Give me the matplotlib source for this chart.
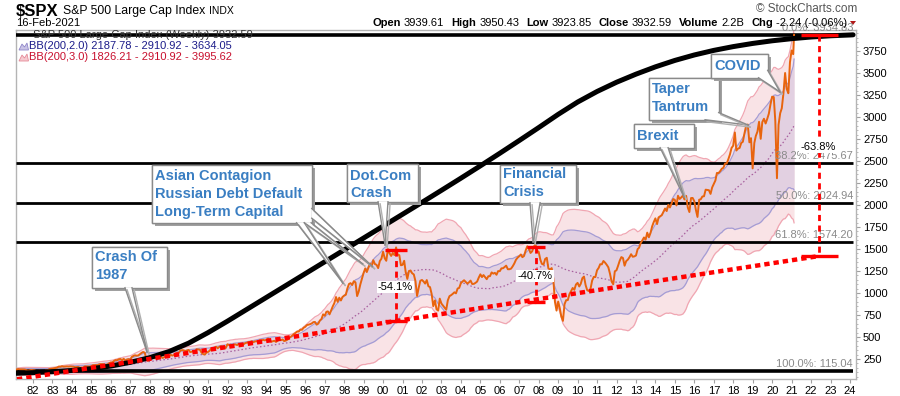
import numpy as np
import pandas as pd
import matplotlib
matplotlib.use("Agg")
import matplotlib.pyplot as plt
from matplotlib.patches import Polygon
from matplotlib import patheffects as pe

# ---------------- data (S&P 500, monthly) ----------------
SPX_1978_1989 = [
    89, 87, 89, 97, 97, 96, 101, 103, 103, 93, 95, 96,
    100, 96, 102, 102, 99, 103, 104, 109, 109, 102, 106, 108,
    114, 114, 102, 106, 111, 114, 122, 122, 125, 127, 141, 136,
    130, 131, 136, 133, 132, 131, 131, 123, 116, 122, 126, 123,
    120, 113, 112, 116, 112, 110, 107, 120, 120, 134, 139, 141,
    145, 148, 153, 164, 162, 168, 163, 164, 166, 164, 166, 165,
    163, 157, 159, 160, 151, 153, 151, 167, 166, 166, 164, 167,
    180, 181, 181, 180, 190, 192, 191, 188, 182, 190, 202, 211,
    212, 227, 238, 236, 247, 251, 236, 253, 231, 244, 249, 242,
    274, 284, 292, 288, 290, 304, 319, 330, 322, 248, 230, 247,
    257, 268, 259, 261, 262, 274, 272, 262, 272, 279, 274, 278,
    297, 289, 295, 310, 321, 318, 346, 351, 349, 340, 346, 353,
]
SPX_1990_1999 = [
    329, 332, 340, 331, 361, 358, 356, 323, 306, 300, 322, 330,
    344, 367, 375, 375, 390, 371, 388, 395, 388, 392, 375, 417,
    409, 413, 404, 415, 415, 408, 424, 414, 418, 419, 431, 436,
    439, 443, 452, 440, 450, 451, 448, 464, 459, 468, 462, 466,
    482, 467, 446, 451, 457, 444, 458, 475, 463, 472, 454, 459,
    470, 487, 501, 515, 533, 545, 562, 562, 584, 582, 605, 616,
    636, 640, 646, 654, 669, 671, 640, 652, 687, 705, 757, 741,
    786, 791, 757, 801, 848, 885, 954, 899, 947, 915, 955, 970,
    980, 1049, 1102, 1112, 1091, 1134, 1121, 965, 1017, 1099, 1164, 1229,
    1280, 1238, 1286, 1335, 1302, 1373, 1329, 1320, 1283, 1363, 1389, 1469,
]
SPX_2000_2009 = [
    1394, 1366, 1499, 1452, 1421, 1455, 1431, 1518, 1437, 1429, 1315, 1320,
    1366, 1240, 1160, 1249, 1256, 1224, 1211, 1134, 966, 1060, 1139, 1148,
    1130, 1107, 1147, 1077, 1067, 990, 850, 916, 815, 800, 936, 880,
    856, 835, 810, 917, 964, 975, 990, 1008, 996, 1051, 1058, 1112,
    1131, 1145, 1126, 1107, 1121, 1141, 1102, 1104, 1115, 1130, 1174, 1212,
    1181, 1204, 1181, 1157, 1191, 1191, 1234, 1220, 1229, 1207, 1249, 1248,
    1280, 1281, 1295, 1311, 1270, 1270, 1277, 1304, 1336, 1378, 1401, 1418,
    1438, 1407, 1421, 1482, 1531, 1503, 1455, 1474, 1527, 1549, 1481, 1468,
    1379, 1331, 1323, 1386, 1400, 1280, 1267, 1283, 1166, 900, 800, 903,
    826, 735, 683, 873, 919, 919, 987, 1021, 1057, 1036, 1096, 1115,
]
SPX_2010_2021 = [
    1074, 1104, 1169, 1187, 1089, 1031, 1022, 1049, 1141, 1183, 1181, 1258,
    1286, 1327, 1326, 1364, 1345, 1321, 1292, 1219, 1131, 1099, 1247, 1258,
    1312, 1366, 1408, 1398, 1310, 1362, 1379, 1407, 1441, 1412, 1416, 1426,
    1498, 1515, 1569, 1598, 1631, 1606, 1686, 1633, 1682, 1757, 1806, 1848,
    1783, 1859, 1872, 1884, 1924, 1960, 1931, 2003, 1972, 2018, 2068, 2059,
    1995, 2105, 2068, 2086, 2107, 2063, 2104, 1972, 1920, 2079, 2080, 2044,
    1940, 1864, 2060, 2065, 2097, 2099, 2174, 2171, 2168, 2126, 2199, 2239,
    2279, 2364, 2363, 2384, 2412, 2423, 2470, 2472, 2519, 2575, 2648, 2674,
    2824, 2619, 2641, 2648, 2705, 2718, 2816, 2902, 2914, 2712, 2760, 2416,
    2704, 2784, 2834, 2946, 2752, 2942, 2980, 2926, 2977, 3038, 3141, 3231,
    3226, 2954, 2304, 2912, 3044, 3100, 3271, 3500, 3319, 3270, 3622, 3756,
    3714, 3934,
]

# Fibonacci retracement levels
FIB_LABELS = ["0.0%", "38.2%", "50.0%", "61.8%", "100.0%"]
FIB_VALUES = [3934.83, 2475.67, 2024.94, 1574.20, 115.04]

# hand-drawn black arc (read at each year)
CURVE_YEARS = [1981.13, 1982, 1983, 1984, 1985, 1986, 1987, 1988, 1989, 1990,
               1991, 1992, 1993, 1994, 1995, 1996, 1997, 1998, 1999, 2000,
               2001, 2002, 2003, 2004, 2005, 2006, 2007, 2008, 2009, 2010,
               2011, 2012, 2013, 2014, 2015, 2016, 2017, 2018, 2019, 2020,
               2021, 2022, 2023, 2024, 2024.16]
CURVE_VALUES = [88, 95, 106, 120, 140, 170, 212, 265, 335, 430,
                550, 680, 815, 950, 1085, 1220, 1355, 1490, 1625, 1760,
                1895, 2030, 2167, 2305, 2445, 2588, 2733, 2880, 3030, 3170,
                3290, 3395, 3487, 3570, 3643, 3705, 3757, 3800, 3836, 3866,
                3890, 3909, 3923, 3932, 3934]

# red dotted trend line
TREND_YEARS = [1981.18, 2022.41]
TREND_VALUES = [20, 1420]

# drawdown measurements
DD_YEARS = [2000.67, 2007.86, 2022.41]
DD_TOPS = [1489, 1523, 3934.83]
DD_BOTTOMS = [682, 903, 1420]
DD_LABELS = ["-54.1%", "-40.7%", "-63.8%"]

YEAR_TICKS = list(range(1982, 2025))
PRICE_TICKS = list(range(250, 3751, 250))

# ---------------- styling ----------------
plt.rcParams['font.family'] = ['Liberation Sans', 'DejaVu Sans']
W, H = 900, 396
fig = plt.figure(figsize=(W / 100, H / 100), dpi=100)
fig.patch.set_facecolor('white')

def fx(px):
    return px / W

def fy(py):
    return 1 - py / H

ax = fig.add_axes([fx(16), fy(379), (856 - 16) / W, (379 - 30) / H])
ax.set_xlim(1981.126, 2024.31)
ax.set_ylim(22.7, 3988.6)

close = np.array(SPX_1978_1989 + SPX_1990_1999 + SPX_2000_2009 + SPX_2010_2021, dtype=float)
months = pd.date_range('1978-01-31', periods=len(close), freq='ME')
dates = np.asarray(months.year + (months.dayofyear - 1) / 365.25, dtype=float)
dates[-1] = 2021 + 46 / 365.25

s = pd.Series(close)
win = 46  # ~200 weeks
mid = s.rolling(win, min_periods=34).mean().to_numpy()
sd = s.rolling(win, min_periods=34).std(ddof=0).to_numpy()
up2, lo2 = mid + 2 * sd, mid - 2 * sd
up3, lo3 = mid + 3 * sd, mid - 3 * sd
ok = ~np.isnan(mid)

ax.fill_between(dates[ok], lo3[ok], up3[ok], color='#f9e3e6', lw=0, zorder=1)
ax.plot(dates[ok], up3[ok], color='#f0a6b2', lw=0.9, zorder=1.2)
ax.plot(dates[ok], lo3[ok], color='#f0a6b2', lw=0.9, zorder=1.2)
ax.fill_between(dates[ok], lo2[ok], up2[ok], color='#e2d0e1', lw=0, zorder=1.5)
ax.plot(dates[ok], up2[ok], color='#a59cd4', lw=0.9, zorder=1.7)
ax.plot(dates[ok], lo2[ok], color='#a59cd4', lw=0.9, zorder=1.7)
ax.plot(dates[ok], mid[ok], color='#a8609e', lw=0.9, ls=(0, (1.2, 1.8)), zorder=1.8)

# fib lines
for lab, v in zip(FIB_LABELS, FIB_VALUES):
    lw = 2.6 if lab in ("0.0%", "100.0%") else 2.0
    ax.plot([1981.13, 2024.16], [v, v], color='black', lw=lw, zorder=3,
            solid_capstyle='butt')

# price
ax.plot(dates, close, color='#e8640e', lw=1.4, zorder=4, solid_joinstyle='round')

# arc
ax.plot(CURVE_YEARS, CURVE_VALUES, color='black', lw=3.6, zorder=6,
        solid_capstyle='round', solid_joinstyle='round')

# trend line
ax.plot(TREND_YEARS, TREND_VALUES, color='#ff0000', lw=3.2, ls=(0, (1.2, 0.9)),
        zorder=6.5, dash_capstyle='butt')

# drawdown markers
bar_half = [0.56, 0.46, 0.95]
for yr, top, bot, hw in zip(DD_YEARS, DD_TOPS, DD_BOTTOMS, bar_half):
    ax.plot([yr, yr], [top, bot], color='#ff0000', lw=2.0, ls=(0, (2.2, 1.6)), zorder=7)
    for v in (top, bot):
        ax.plot([yr - hw, yr + hw], [v, v], color='#ff0000', lw=2.4, zorder=7,
                solid_capstyle='butt')

lbl_pos = [(2000.62, 1068), (2007.81, 1193), (2022.36, 2659)]
for (lx, lv), lab in zip(lbl_pos, DD_LABELS):
    ax.text(lx, lv, lab, fontsize=8, ha='center', va='center', zorder=8,
            bbox=dict(facecolor='white', edgecolor='none', pad=0.8))

# fib labels
fib_pos = [None, 2557, 2102, 1659, 193]
for lab, v, pos in zip(FIB_LABELS, FIB_VALUES, fib_pos):
    txt = f"{lab}: {v:.2f}"
    if pos is None:
        fig.text(fx(853), fy(28), txt, fontsize=8, color='#8a8a8a', ha='right', va='center')
    else:
        ax.text(2024.16, pos, txt, fontsize=8, color='#8a8a8a', ha='right', va='center',
                zorder=5)

# ---------------- callouts ----------------
BLUE = '#3a7ec2'
EDGE = '#8a8a8a'
shadow = [pe.withSimplePatchShadow(offset=(2, -2), shadow_rgbFace='#a0a0a0', alpha=1.0),
          pe.Normal()]

def callout(box, lines, text_x, text_vals, wedges, zb=10):
    x0, v0, x1, v1 = box
    ax.add_patch(Polygon([(x0, v0), (x1, v0), (x1, v1), (x0, v1)], closed=True,
                         facecolor='white', edgecolor=EDGE, lw=1.0, zorder=zb,
                         path_effects=shadow))
    for a, b, tip in wedges:
        ax.add_patch(Polygon([a, b, tip], closed=True, facecolor='white',
                             edgecolor='none', zorder=zb + 0.3))
        for p in (a, b):
            ax.plot([p[0], tip[0]], [p[1], tip[1]], color=EDGE, lw=1.0, zorder=zb + 0.4,
                    path_effects=[pe.SimpleLineShadow(offset=(1.5, -1.5),
                                                      shadow_color='#b0b0b0', alpha=1),
                                  pe.Normal()])
    for t, v in zip(lines, text_vals):
        ax.text(text_x, v, t, color=BLUE, fontsize=10.5, fontweight='bold',
                ha='left', va='center', zorder=zb + 0.5)

callout((1985.03, 1057, 1988.89, 1523), ["Crash Of", "1987"], 1985.19, [1409, 1205],
        [((1986.73, 1060), (1987.09, 1060), (1987.86, 330))])
callout((1988.12, 1795, 1996.34, 2455),
        ["Asian Contagion", "Russian Debt Default", "Long-Term Capital"], 1988.27,
        [2330, 2125, 1920],
        [((1995.55, 1798), (1995.95, 1798), (1997.94, 1110)),
         ((1995.95, 1798), (1996.30, 1798), (1998.95, 1330)),
         ((1996.33, 1850), (1996.33, 1960), (1999.45, 1300))])
callout((1998.14, 2034, 2001.79, 2466), ["Dot.Com", "Crash"], 1998.30, [2330, 2136],
        [((1999.74, 2037), (2000.25, 2037), (2000.10, 1545))])
callout((2006.01, 2023, 2009.92, 2455), ["Financial", "Crisis"], 2006.16, [2352, 2148],
        [((2007.55, 2026), (2008.07, 2026), (2007.71, 1580))])
callout((2012.90, 2648, 2015.98, 2920), ["Brexit"], 2013.05, [2784],
        [((2014.24, 2651), (2014.65, 2651), (2015.47, 2091))])
callout((2013.67, 2966, 2017.27, 3443), ["Taper", "Tantrum"], 2013.83, [3318, 3114],
        [((2016.55, 2969), (2017.25, 3050), (2018.76, 2909))])
callout((2016.86, 3443, 2019.79, 3716), ["COVID"], 2017.01, [3580],
        [((2019.30, 3446), (2019.77, 3530), (2020.41, 3284))], zb=11)

# ---------------- axes ----------------
ax.set_xticks(YEAR_TICKS)
ax.set_xticklabels([f"{y % 100:02d}" for y in YEAR_TICKS])
ax.yaxis.tick_right()
ax.set_yticks(PRICE_TICKS)
ax.set_yticklabels([str(v) for v in PRICE_TICKS])
ax.set_yticks(list(range(50, 3990, 50)), minor=True)
ax.tick_params(axis='both', which='major', labelsize=8, color='#a0a0a0', length=3,
               width=0.8, pad=2)
ax.tick_params(axis='y', which='minor', color='#b0b0b0', length=1.5, width=0.6)
ax.tick_params(axis='x', which='minor', length=0)
for sp in ax.spines.values():
    sp.set_color('#b4b4b4')
    sp.set_linewidth(1.0)

# ---------------- header & legend ----------------
renderer = fig.canvas.get_renderer()

def seq_text(x_px, y_px, pieces, ha='left'):
    objs, widths = [], []
    for txt, kw, gap in pieces:
        t = fig.text(0, 0, txt, va='center', **kw)
        objs.append(t)
        widths.append(t.get_window_extent(renderer).width + gap)
    x = x_px - sum(widths) if ha == 'right' else x_px
    for t, w in zip(objs, widths):
        t.set_position((fx(x), fy(y_px)))
        x += w

seq_text(16, 11, [("$SPX", dict(fontsize=12, fontweight='bold'), 4),
                  ("S&P 500 Large Cap Index", dict(fontsize=8.8), 4),
                  ("INDX", dict(fontsize=7.5), 0)])
fig.text(fx(16), fy(23), "16-Feb-2021", fontsize=8, va='center')
B = dict(fontsize=8, fontweight='bold')
N = dict(fontsize=8)
seq_text(847, 23, [("Open", B, 3), ("3939.61", N, 7), ("High", B, 3), ("3950.43", N, 7),
                   ("Low", B, 3), ("3923.85", N, 7), ("Close", B, 3), ("3932.59", N, 7),
                   ("Volume", B, 3), ("2.2B", N, 7), ("Chg", B, 3),
                   ("-2.24 (-0.06%)", N, 0)], ha='right')
fig.add_artist(Polygon([(fx(850), fy(21)), (fx(856), fy(21)), (fx(853), fy(25))],
                       closed=True, facecolor='#b01818', edgecolor='none',
                       transform=fig.transFigure))
fig.text(fx(857), fy(9), "\u00a9 StockCharts.com", fontsize=8.5, color='#555555',
         ha='right', va='center')

fig.text(fx(33), fy(34.5), "S&P 500 Large Cap Index (Weekly) 3932.59", fontsize=8,
         color='#333333', va='center', zorder=0)
fig.text(fx(29), fy(46), "BB(200,2.0) 2187.78 - 2910.92 - 3634.05", fontsize=8,
         color='#1c1c8a', va='center')
fig.text(fx(29), fy(57), "BB(200,3.0) 1826.21 - 2910.92 - 3995.62", fontsize=8,
         color='#c8102e', va='center')
for yy, fc, ec in ((46, '#c9c3e6', '#8f86c9'), (57, '#f6c9cf', '#e58a97')):
    pts = [(19, yy + 4), (22, yy - 2), (24.5, yy + 1), (27, yy - 3), (28.5, yy + 4)]
    fig.add_artist(Polygon([(fx(a), fy(b)) for a, b in pts], closed=True, facecolor=fc,
                           edgecolor=ec, lw=0.6, transform=fig.transFigure))

fig.savefig("out.png", dpi=100)
